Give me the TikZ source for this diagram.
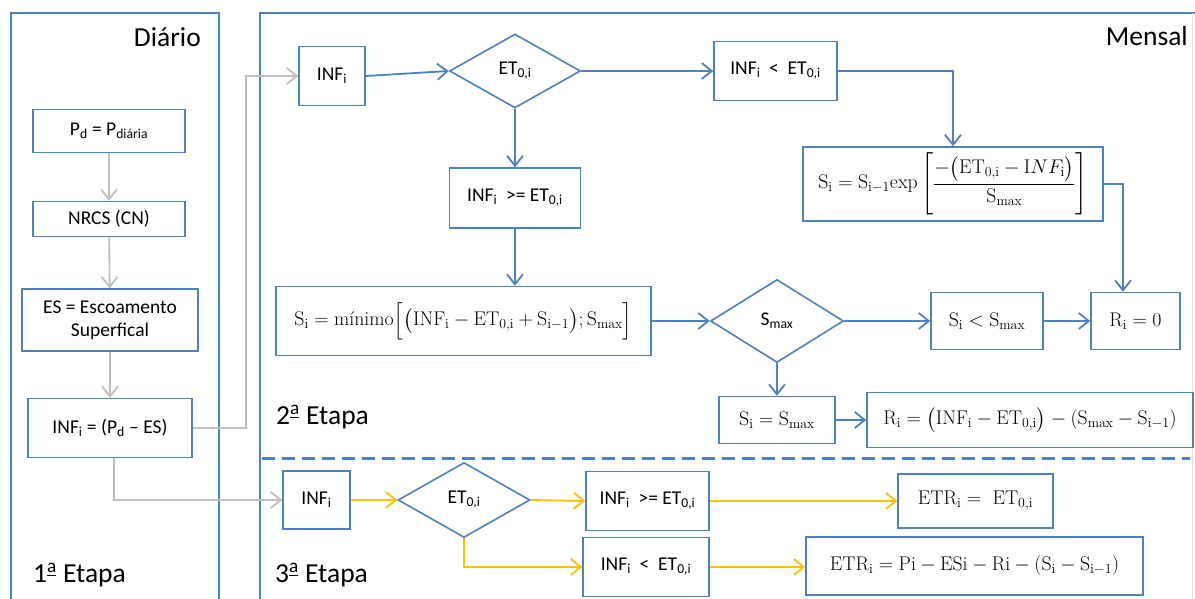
\RequirePackage{fix-cm}
\documentclass[tikz,border=0pt]{standalone}
\usepackage{amsmath}
\usepackage{fontspec}
\newfontfamily\calib{Carlito}
\usetikzlibrary{arrows.meta,shapes.geometric}

\definecolor{frameblue}{RGB}{79,129,189}
\definecolor{flowgrey}{RGB}{191,191,191}
\definecolor{flowgold}{RGB}{255,192,0}
\definecolor{edgefaint}{RGB}{218,226,238}

\newcommand\tsub[1]{\textsubscript{#1}}
% ordinal indicator drawn with its underline
\newcommand\ordA{\textsuperscript{\underline{a}}}

\tikzset{
  box/.style={draw=frameblue, line width=1.6pt, inner sep=0pt, align=center,
    font=\calib\fontsize{19.5}{23}\selectfont},
  mbox/.style={box, font=\fontsize{19.8}{23}\selectfont},
  choice/.style={diamond, draw=frameblue, line width=1.6pt, inner sep=0pt,
    font=\calib\fontsize{19.5}{23}\selectfont},
  barb/.style={-{Straight Barb[length=10pt,width=16pt]}},
  flow/.style={draw=frameblue, line width=1.8pt, barb},
  greyflow/.style={draw=flowgrey, line width=1.8pt, barb},
  goldflow/.style={draw=flowgold, line width=1.8pt, barb},
  panel/.style={draw=frameblue, line width=1.6pt},
  title/.style={inner sep=0pt, font=\calib\fontsize{27.5}{32}\selectfont},
}

\begin{document}
\begin{tikzpicture}[x=1pt, y=-1pt]
\useasboundingbox (0,0) rectangle (1195,599);
\fill[white] (0,0) rectangle (1195,599);
\clip (0,0) rectangle (1195,599);

% panels
\draw[panel] (11,610) -- (11,13) -- (219,13) -- (219,610);
\draw[panel] (260,610) -- (260,13) -- (1200,13);
\draw[edgefaint, line width=1pt] (1192,13) -- (1192,610);
\draw[frameblue, line width=3pt, dash pattern=on 13pt off 7pt] (262,458) -- (1190,458);

% panel titles
\node[title, anchor=base east] (tday) at (201,47) {Diário};
\node[title, anchor=base east] (tmonth) at (1188,46) {Mensal};
\node[title, anchor=base west] (st1) at (33,582) {1\ordA{} Etapa};
\node[title, anchor=base west] (st2) at (276,424) {2\ordA{} Etapa};
\node[title, anchor=base west] (st3) at (275,582) {3\ordA{} Etapa};

% daily stage
\node[box, minimum width=152pt, minimum height=43pt] (pd) at (109,131) {P\tsub{d} = P\tsub{diária}};
\node[box, minimum width=152pt, minimum height=35pt] (nrcs) at (109,219) {NRCS (CN)};
\node[box, minimum width=176pt, minimum height=62pt] (es) at (110,320) {ES = Escoamento\\Superfical};
\node[box, minimum width=164pt, minimum height=59pt] (inf0) at (110,428) {INF\tsub{i} = (P\tsub{d} – ES)};

\draw[greyflow] (pd) -- (nrcs);
\draw[greyflow] (nrcs) -- (es);
\draw[greyflow] (es) -- (inf0);

% monthly stage
\node[box, minimum width=66pt, minimum height=59pt] (inf1) at (332,76) {INF\tsub{i}};
\node[choice, minimum width=131pt, minimum height=74pt] (d1) at (515,71) {ET\tsub{0,i}};
\node[box, minimum width=123pt, minimum height=59pt] (lt1) at (775.5,71) {INF\tsub{i} \ < \ ET\tsub{0,i}};
\node[mbox, minimum width=300pt, minimum height=74pt] (sexp) at (953,184)
  {$\mathrm{S_i} = \mathrm{S_{i-1}exp}\left[\dfrac{-\bigl(\mathrm{ET_{0,i}} - \mathrm{I}NF_{\mathrm{i}}\bigr)}{\mathrm{S_{max}}}\right]$};
\node[box, minimum width=131pt, minimum height=60pt] (ge1) at (515,198) {INF\tsub{i} \ >= ET\tsub{0,i}};
\node[mbox, minimum width=375pt, minimum height=69pt] (smin) at (463.5,321)
  {$\mathrm{S_i} = \text{\rmfamily mínimo}\Bigl[\bigl(\mathrm{INF_i} - \mathrm{ET_{0,i}} + \mathrm{S_{i-1}}\bigr); \mathrm{S_{max}}\Bigr]$};
\node[choice, minimum width=133pt, minimum height=83pt] (d2) at (777,321) {S\tsub{max}};
\node[mbox, minimum width=112pt, minimum height=57pt] (slt) at (987,321) {$\mathrm{S_i} < \mathrm{S_{max}}$};
\node[mbox, minimum width=89pt, minimum height=57pt] (r0) at (1135.5,321) {$\mathrm{R_i} = 0$};
\node[mbox, minimum width=116pt, minimum height=47pt] (seq) at (777,420) {$\mathrm{S_i} = \mathrm{S_{max}}$};
\node[mbox, minimum width=326pt, minimum height=55pt] (rfull) at (1030,420)
  {$\mathrm{R_i} = \bigl(\mathrm{INF_i} - \mathrm{ET_{0,i}}\bigr) - (\mathrm{S_{max}} - \mathrm{S_{i-1}})$};

\coordinate (up1) at (246,428);
\coordinate (up2) at (246,76);
\draw[greyflow] (inf0.east) -- (up1) -- (up2) -- (up2 -| inf1.west);

\draw[flow] (inf1.east) -- (d1.west);
\draw[flow] (d1.east) -- (lt1.west);
\draw[flow] (lt1.east) -| (sexp.north);
\draw[flow] (sexp.east) -| ([xshift=-12.5pt]r0.north);
\draw[flow] (d1.south) -- (ge1.north);
\draw[flow] (ge1.south) -- (ge1.south |- smin.north);
\draw[flow] (smin.east) -- (d2.west);
\draw[flow] (d2.east) -- (slt.west);
\draw[flow] (slt.east) -- (r0.west);
\draw[flow] (d2.south) -- (seq.north);
\draw[flow] (seq.east) -- (rfull.west);

% evapotranspiration stage
\node[box, minimum width=67pt, minimum height=58pt] (inf3) at (316.5,500) {INF\tsub{i}};
\node[choice, minimum width=132pt, minimum height=75pt] (d3) at (464,500) {ET\tsub{0,i}};
\node[box, minimum width=123pt, minimum height=59pt] (ge3) at (647.5,501) {INF\tsub{i} \ >= ET\tsub{0,i}};
\node[mbox, minimum width=155pt, minimum height=54pt] (etr1) at (975.5,501) {$\mathrm{ETR_i} =\ \mathrm{ET_{0,i}}$};
\node[box, minimum width=126pt, minimum height=59pt] (lt3) at (646,567) {INF\tsub{i} \ < \ ET\tsub{0,i}};
\node[mbox, minimum width=337pt, minimum height=58pt] (etr2) at (974.5,566)
  {$\mathrm{ETR_i} = \mathrm{Pi} - \mathrm{ESi} - \mathrm{Ri} - (\mathrm{S_i} - \mathrm{S_{i-1}})$};

\coordinate (dn1) at (114,500);
\draw[greyflow] ([xshift=4pt]inf0.south) -- (dn1) -- (inf3.west);

\draw[goldflow] (inf3.east) -- (d3.west);
\draw[goldflow] (d3.east) -- (ge3.west);
\draw[goldflow] (ge3.east) -- (ge3.east -| etr1.west);
\draw[goldflow] (d3.south) |- (lt3.west);
\draw[goldflow] (lt3.east) -- (lt3.east -| etr2.west);
\end{tikzpicture}
\end{document}
